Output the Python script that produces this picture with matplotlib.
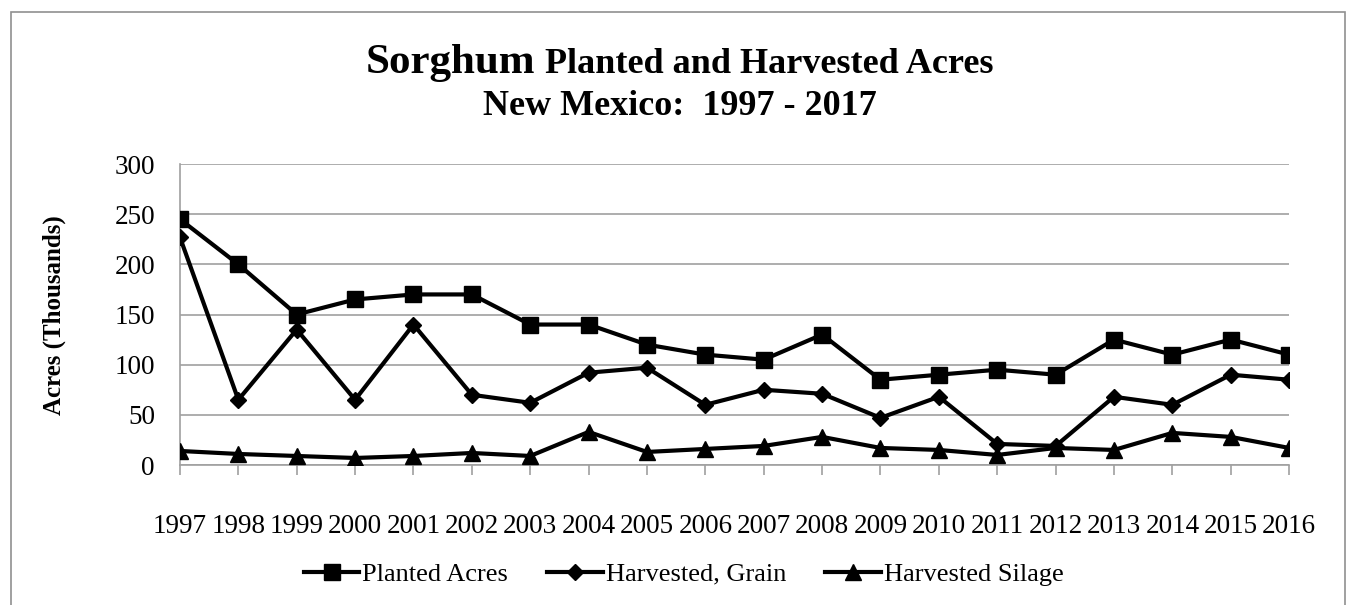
import numpy as np
import matplotlib
matplotlib.use("Agg")
import matplotlib.pyplot as plt
from matplotlib.patches import Rectangle

# data (thousand acres)
years = [str(y) for y in range(1997, 2017)]
planted = [245, 200, 150, 165, 170, 170, 140, 140, 120, 110, 105, 130, 85, 90, 95, 90, 125, 110, 125, 110]
grain = [227, 65, 135, 65, 140, 70, 62, 92, 97, 60, 75, 71, 47, 68, 21, 19, 68, 60, 90, 85]
silage = [14, 11, 9, 7, 9, 12, 9, 33, 13, 16, 19, 28, 17, 15, 10, 17, 15, 32, 28, 17]
y_ticks = [0, 50, 100, 150, 200, 250, 300]

plt.rcParams['font.family'] = ['Liberation Serif', 'DejaVu Serif']

fig = plt.figure(figsize=(13.51, 6.05), dpi=100)
ax = fig.add_axes([0.1332, 0.2314, 0.821, 0.4975])

x = np.arange(len(years))
ax.plot(x, planted, color='black', lw=3, marker='s', ms=12, label='Planted Acres', zorder=3)
ax.plot(x, grain, color='black', lw=3, marker='D', ms=8, label='Harvested, Grain', zorder=3)
ax.plot(x, silage, color='black', lw=3, marker='^', ms=12, label='Harvested Silage', zorder=3)

ax.set_xlim(0, len(years) - 1)
ax.set_ylim(0, 300)
ax.set_yticks(y_ticks)
ax.set_xticks(x)
ax.set_xticklabels(years)
ax.grid(axis='y', color='#a0a0a0', lw=1.2)
ax.set_axisbelow(True)
for s in ['top', 'right']:
    ax.spines[s].set_visible(False)
for s in ['left', 'bottom']:
    ax.spines[s].set_color('#a0a0a0')
    ax.spines[s].set_linewidth(1.2)
ax.tick_params(axis='x', direction='out', length=7, color='#a0a0a0', width=1.2,
               pad=28, labelsize=19.5)
ax.tick_params(axis='y', length=0, pad=18, labelsize=19.5)

fig.text(0.040, 0.479, 'Acres (Thousands)', fontsize=18, fontweight='bold',
         rotation=90, ha='center', va='center')

# title: first word larger, both parts centred together
t1 = fig.text(0, 0.879, 'Sorghum', fontsize=31, fontweight='bold', ha='left', va='baseline')
t2 = fig.text(0, 0.879, ' Planted and Harvested Acres', fontsize=26, fontweight='bold',
              ha='left', va='baseline')
fig.canvas.draw()
r = fig.canvas.get_renderer()
w1 = t1.get_window_extent(r).width / fig.bbox.width
w2 = t2.get_window_extent(r).width / fig.bbox.width
x0 = 0.503 - (w1 + w2) / 2
t1.set_x(x0)
t2.set_x(x0 + w1)
fig.text(0.503, 0.810, 'New Mexico:  1997 - 2017', fontsize=26, fontweight='bold',
         ha='center', va='baseline')

fig.legend(loc='center', bbox_to_anchor=(0.506, 0.051), ncol=3, frameon=False,
           fontsize=19, handlelength=2.1, columnspacing=1.5, handletextpad=0.1)

# outer chart frame
fig.patches.append(Rectangle((0.008, -0.05), 0.9876, 1.03, transform=fig.transFigure,
                             fill=False, edgecolor='#909090', lw=1.2))

fig.savefig('out.png', dpi=100)
